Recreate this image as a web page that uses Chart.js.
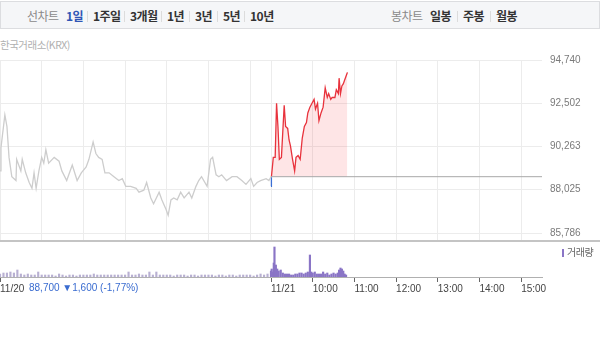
<!DOCTYPE html>
<html><head><meta charset="utf-8">
<script src="https://cdn.jsdelivr.net/npm/chart.js@4/dist/chart.umd.min.js"></script>
<style>
html,body{margin:0;padding:0;background:#fff;width:600px;height:346px;overflow:hidden;font-family:"Liberation Sans","Noto Sans CJK KR",sans-serif;}
#bar{position:absolute;left:0;top:1px;width:598px;height:26px;background:#f5f6f8;border:1px solid #dcdde0;}
.t{position:absolute;top:6px;height:20px;line-height:20px;font-size:12px;font-weight:bold;color:#333;font-family:"Noto Sans CJK KR",sans-serif;letter-spacing:-0.5px;white-space:nowrap;}
.g{color:#8a8a8a;font-weight:normal;}
.b{color:#2f55b5;}
.s{position:absolute;top:11px;width:1px;height:11px;background:#dcdcdc;}
#krx{position:absolute;left:0;top:38px;font-size:10.5px;color:#b0b0b0;font-family:"Noto Sans CJK KR",sans-serif;letter-spacing:-0.5px;line-height:14px;}
#sep{position:absolute;left:0;top:240px;width:600px;height:2px;background:#c4c4c4;}
#chg{position:absolute;left:29px;top:281px;font-size:10px;color:#3a6cd0;line-height:14px;white-space:nowrap;}
#leg{position:absolute;left:562px;top:245px;font-size:10px;color:#666;font-family:"Noto Sans CJK KR",sans-serif;line-height:14px;white-space:nowrap;letter-spacing:-0.5px;}
#leg i{display:inline-block;width:2px;height:8px;background:#8a75c6;margin-right:3px;vertical-align:-1px;}
canvas{position:absolute;left:0;}
#main{top:52px;}
#vol{top:241px;}
</style></head>
<body>
<div id="bar"></div>
<span class="t g" style="left:27px">선차트</span>
<span class="t b" style="left:66px">1일</span>
<div class="s" style="left:87px"></div>
<span class="t" style="left:93px">1주일</span>
<div class="s" style="left:124px"></div>
<span class="t" style="left:130px">3개월</span>
<div class="s" style="left:161px"></div>
<span class="t" style="left:167px">1년</span>
<div class="s" style="left:189px"></div>
<span class="t" style="left:195px">3년</span>
<div class="s" style="left:217px"></div>
<span class="t" style="left:223px">5년</span>
<div class="s" style="left:244px"></div>
<span class="t" style="left:250px">10년</span>
<span class="t g" style="left:391px">봉차트</span>
<span class="t" style="left:430px">일봉</span>
<div class="s" style="left:457px"></div>
<span class="t" style="left:463px">주봉</span>
<div class="s" style="left:490px"></div>
<span class="t" style="left:496px">월봉</span>
<div id="krx">한국거래소(KRX)</div>
<canvas id="main" width="600" height="188"></canvas>
<div id="sep"></div>
<canvas id="vol" width="600" height="59"></canvas>
<div id="chg">88,700 ▼1,600 (-1,77%)</div>
<div id="leg"><i></i>거래량</div>
<script>
// 11/20 session: minutes after 09:00, price
const prevMin = [0,1.4,7,10,13,17,23,24,30,32,37,42,46,49,52,56,60,63,66,70,78,85,89,96,104,111,117,124,128,134,138,142,147,151,157,164,171,176,181,188,196,200,207,211,217,221,229,233,239,242,246,250,255,260,265,272,276,282,286,290,298,303,306,311,315,319,326,334,341,348,354,361,365,370,375,383,387,390];
const prevPrice = [89000,90200,91900,91300,89700,88700,88500,89600,89000,89600,88900,88400,88100,88900,88100,89000,89700,89400,90100,89400,89700,89500,89000,88500,89300,88500,88900,89200,89600,90500,89900,89700,89600,88900,88900,88700,88500,88600,88200,88200,88100,87900,88000,88400,87600,87300,87900,87500,87000,86700,87500,87600,87500,87900,87600,87900,87600,88200,88500,88700,88200,89600,89700,88800,88700,88800,88500,88700,88700,88500,88300,88600,88200,88400,88500,88600,88500,88700];
// 11/21 session: minutes after 09:00, price
const todayMin = [0,0.6,2,3.3,6,8,10,12,15,19,21,24,26,28,31,34,36,39,42,45,48,51,53,56,59,62,64,67,69,72,75,78,81,83,86,88,92,94,97,98,100,102,104,106,109,110];
const todayPrice = [88200,88700,89200,89700,89700,92500,91300,89600,89700,92400,91300,91200,90600,90300,89600,89000,89700,89800,89600,90700,91300,91500,92000,92300,92500,92700,92200,92500,91600,92000,92300,93300,92800,93000,92700,92800,92800,93200,93000,93800,93000,93400,93500,93700,94000,94100];
const prevClose = 88700;
const yTicks = [85786, 88025, 90263, 92502, 94740];
// volume (thousand shares)
const volPrevMin = [0,5,10,15,20,25,30,35,40,45,50,55,60,65,70,75,80,85,90,95,100,105,110,115,120,125,130,135,140,145,150,155,160,165,170,175,180,185,190,195,200,205,210,215,220,225,230,235,240,245,250,255,260,265,270,275,280,285,290,295,300,305,310,315,320,325,330,335,340,345,350,355,360,365,370,375,380,385];
const volPrev = [30,40,40,50,40,70,30,20,30,20,20,50,20,20,20,20,10,30,20,10,20,20,10,20,20,20,20,30,20,20,20,20,20,20,20,20,20,50,20,20,30,20,20,50,20,50,20,20,20,20,10,20,20,20,10,20,20,10,20,20,20,20,10,20,20,10,20,20,10,20,20,20,20,10,20,30,20,30];
const volTodayMin = [0,1,2,4,5,7,9,11,14,17,20,23,26,29,32,35,38,41,44,47,50,53,56,58,60,63,66,69,72,75,78,81,84,87,90,93,96,98,100,102,104,106,108];
const volToday = [60,80,50,140,300,120,80,60,70,40,30,30,30,20,20,30,30,40,40,30,40,50,220,50,40,50,30,30,30,50,30,40,20,30,40,30,40,70,90,80,60,30,20];
const gridMin = [0,60,120,180,240,300,360,390,450,510,570,630,690,750];
const labelMin = [0,390,450,510,570,630,690,750];
const labelText = ['11/20','11/21','10:00','11:00','12:00','13:00','14:00','15:00'];

const numFont = {family:'"Liberation Sans","Noto Sans CJK KR",sans-serif', size:10};

new Chart(document.getElementById('main'), {
  type:'line',
  data:{datasets:[
    {data: prevMin.map((m,i)=>({x:m, y:prevPrice[i]})), borderColor:'#cdcdcd', borderWidth:1.3, pointRadius:0, fill:false},
    {data: [{x:390,y:prevClose},{x:780,y:prevClose}], borderColor:'#a8a8a8', borderWidth:1, pointRadius:0, fill:false},
    {data: todayMin.map((m,i)=>({x:390+m, y:todayPrice[i]})), borderColor:'#e8323c', borderWidth:1.3, pointRadius:0,
     fill:{target:{value:prevClose}, above:'rgba(245,80,90,0.15)', below:'rgba(60,100,230,0.15)'},
     segment:{borderColor: c => (c.p0.parsed.y < prevClose || c.p1.parsed.y < prevClose) ? '#3b6fd4' : '#e8323c'}}
  ]},
  options:{
    responsive:false, animation:false, events:[],
    plugins:{legend:{display:false}, tooltip:{enabled:false}},
    layout:{autoPadding:false, padding:{top:8,left:0,right:0,bottom:0}},
    scales:{
      x:{type:'linear', min:0, max:780,
         afterBuildTicks: s => { s.ticks = gridMin.map(v=>({value:v})); },
         ticks:{display:false}, grid:{color:'#ececec', drawTicks:false}, border:{display:false},
         afterFit: s => { s.height = 0; s.paddingLeft = 0; s.paddingRight = 0; }},
      y:{position:'right', min:85424, max:94740,
         afterBuildTicks: s => { s.ticks = yTicks.map(v=>({value:v})); },
         ticks:{padding:8, color:'#7a7a7a', font:numFont, callback: v => Number(v).toLocaleString('en-US')},
         grid:{color:'#ececec', drawTicks:false}, border:{display:false},
         afterFit: s => { s.width = 58; s.paddingTop = 0; s.paddingBottom = 0; }}
    }
  }
});

new Chart(document.getElementById('vol'), {
  type:'bar',
  data:{datasets:[
    {data: volPrevMin.map((m,i)=>({x:m, y:volPrev[i]})), backgroundColor:'#b8b0d2', barThickness:1.5},
    {data: volTodayMin.map((m,i)=>({x:390+m, y:volToday[i]})), backgroundColor:'#8a75c6', barThickness:1.5}
  ]},
  options:{
    responsive:false, animation:false, events:[],
    plugins:{legend:{display:false}, tooltip:{enabled:false}},
    layout:{autoPadding:false, padding:{top:2,left:0,right:58,bottom:0}},
    datasets:{bar:{grouped:false}},
    scales:{
      x:{type:'linear', min:0, max:780, offset:false,
         afterBuildTicks: s => { s.ticks = labelMin.map(v=>({value:v})); },
         ticks:{autoSkip:false, maxRotation:0, align:'start', padding:1, color:'#444', font:numFont,
                callback: v => labelText[labelMin.indexOf(v)]},
         grid:{drawOnChartArea:false, drawTicks:true, tickLength:5, tickColor:'#666', offset:false},
         border:{color:'#b0b0b0'},
         afterFit: s => { s.height = 23; s.paddingLeft = 0; s.paddingRight = 0; }},
      y:{display:false, min:0, max:340}
    }
  }
});
</script>
</body></html>
